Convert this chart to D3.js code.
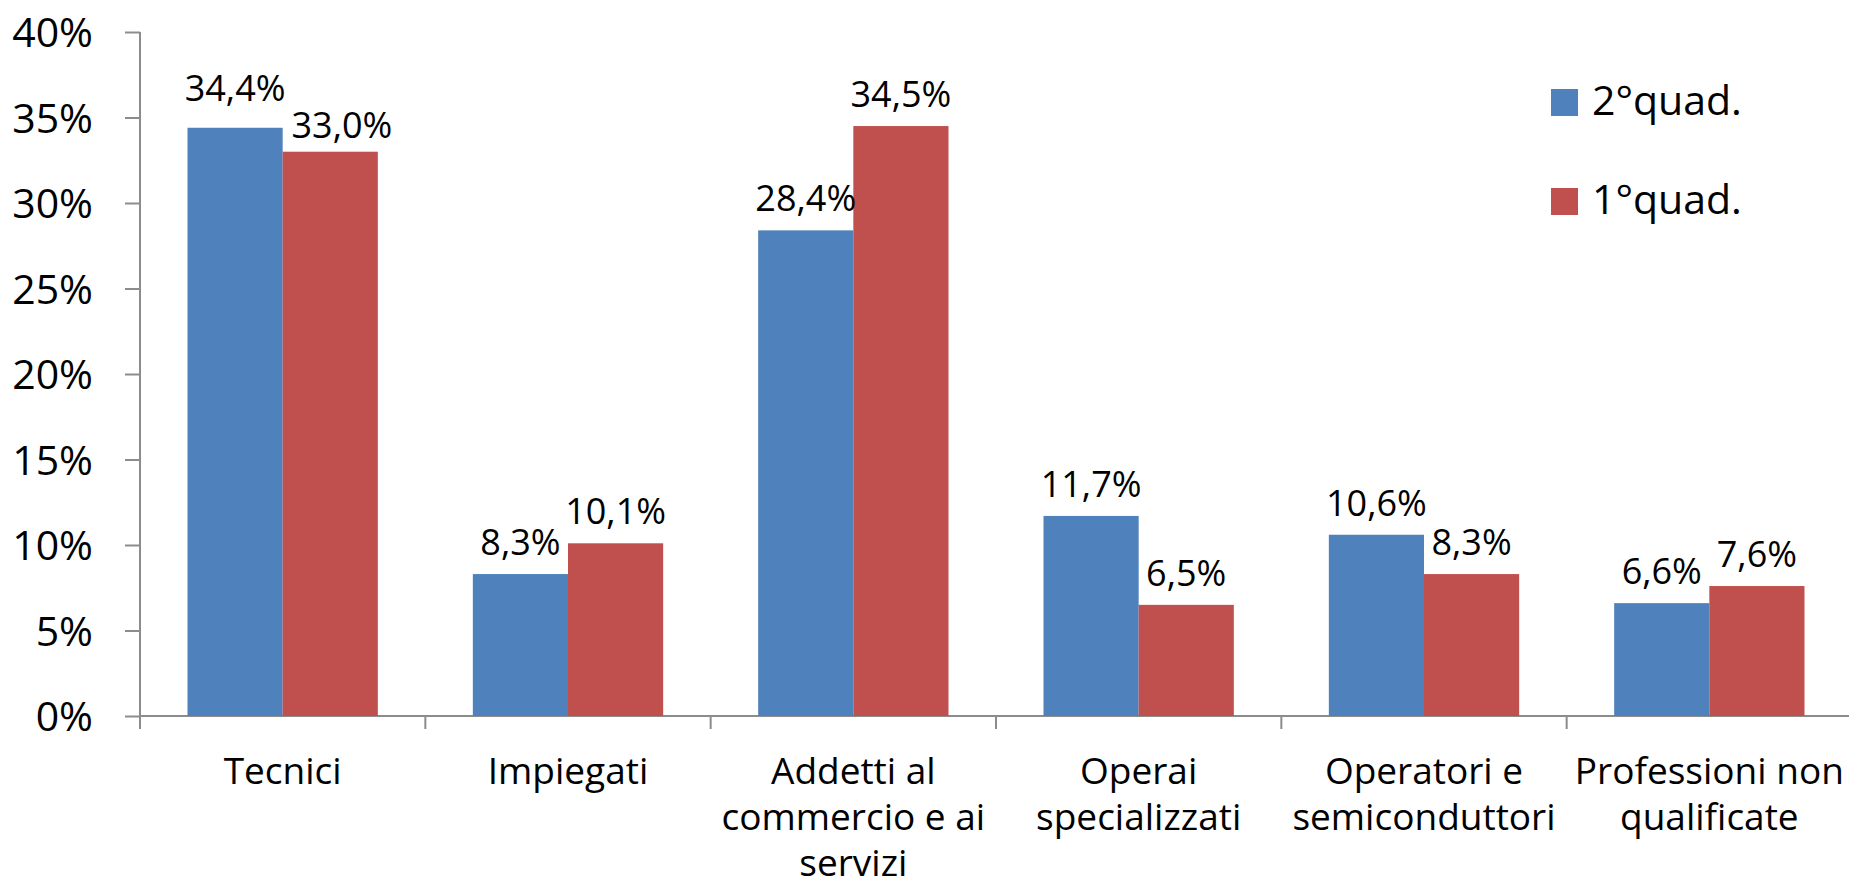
<!DOCTYPE html>
<html>
<head>
<meta charset="utf-8">
<script src="https://cdn.jsdelivr.net/npm/d3@7"></script>
<style>
  html, body { margin: 0; padding: 0; background: #fff; }
  svg { display: block; font-family: "Open Sans", "Noto Sans", sans-serif; }
</style>
</head>
<body>
<div id="chart"></div>
<script>
// categories (each entry = lines of the label)
var categories = [
  ["Tecnici"],
  ["Impiegati"],
  ["Addetti al", "commercio e ai", "servizi"],
  ["Operai", "specializzati"],
  ["Operatori e", "semiconduttori"],
  ["Professioni non", "qualificate"]
];
var seriesNames = ["2°quad.", "1°quad."];
var q2 = [34.4, 8.3, 28.4, 11.7, 10.6, 6.6];
var q1 = [33.0, 10.1, 34.5, 6.5, 8.3, 7.6];
var yTicks = [0, 5, 10, 15, 20, 25, 30, 35, 40];

var colors = ["#4F81BD", "#C0504D"];
var axisColor = "#8c8c8c";

var width = 1849, height = 892;
// plot area (note: "top" is reserved on window, so use other names)
var plotLeft = 140, plotRight = 1852, plotTop = 32, plotBottom = 716;

var svg = d3.select("#chart").append("svg")
  .attr("width", width)
  .attr("height", height);

var x0 = d3.scaleBand()
  .domain(d3.range(categories.length))
  .range([plotLeft, plotRight])
  .paddingInner(0.333)
  .paddingOuter(0.1665);

var x1 = d3.scaleBand()
  .domain([0, 1])
  .range([0, x0.bandwidth()]);

var y = d3.scaleLinear()
  .domain([0, 40])
  .range([plotBottom, plotTop]);

var fmt = function(v) { return v.toFixed(1).replace(".", ",") + "%"; };

// y axis
var yAxis = d3.axisLeft(y)
  .tickValues(yTicks)
  .tickSize(15)
  .tickPadding(32)
  .tickFormat(function(d) { return d + "%"; });

var gy = svg.append("g")
  .attr("transform", "translate(" + plotLeft + ",0)")
  .call(yAxis);
gy.select(".domain").attr("stroke", axisColor).attr("stroke-width", 2)
  .attr("d", "M0," + plotTop + "V" + (plotBottom + 13));
gy.selectAll(".tick line").attr("stroke", axisColor).attr("stroke-width", 2);
gy.selectAll(".tick text")
  .attr("font-size", 41)
  .attr("font-family", "'Open Sans', sans-serif")
  .attr("fill", "#000")
  .attr("dy", "0.36em");

// x axis line and ticks at band boundaries
var step = x0.step();
var gx = svg.append("g");
gx.append("line")
  .attr("x1", plotLeft).attr("x2", plotRight)
  .attr("y1", plotBottom).attr("y2", plotBottom)
  .attr("stroke", axisColor).attr("stroke-width", 2);
gx.selectAll("line.tk")
  .data(d3.range(categories.length + 1))
  .enter().append("line")
  .attr("class", "tk")
  .attr("x1", function(i) { return plotLeft + i * step; })
  .attr("x2", function(i) { return plotLeft + i * step; })
  .attr("y1", plotBottom).attr("y2", plotBottom + 13)
  .attr("stroke", axisColor).attr("stroke-width", 2);

// category labels
var catText = gx.selectAll("text.cat")
  .data(categories)
  .enter().append("text")
  .attr("class", "cat")
  .attr("text-anchor", "middle")
  .attr("font-size", 37)
  .attr("fill", "#000")
  .attr("transform", function(d, i) {
    return "translate(" + (x0(i) + x0.bandwidth() / 2) + "," + 784 + ")";
  });
catText.selectAll("tspan")
  .data(function(d) { return d; })
  .enter().append("tspan")
  .attr("x", 0)
  .attr("y", function(d, j) { return j * 46; })
  .text(function(d) { return d; });

// bars
var rows = categories.map(function(c, i) { return [q2[i], q1[i]]; });
var groups = svg.selectAll("g.grp")
  .data(rows)
  .enter().append("g")
  .attr("class", "grp")
  .attr("transform", function(d, i) { return "translate(" + x0(i) + ",0)"; });

groups.selectAll("rect")
  .data(function(d) { return d; })
  .enter().append("rect")
  .attr("x", function(d, j) { return x1(j); })
  .attr("y", function(d) { return y(d); })
  .attr("width", x1.bandwidth())
  .attr("height", function(d) { return plotBottom - y(d); })
  .attr("fill", function(d, j) { return colors[j]; });

// data labels
groups.each(function(d) {
  var g = d3.select(this);
  var labels = d.map(function(v, j) {
    return g.append("text")
      .attr("text-anchor", "middle")
      .attr("font-size", 36)
      .attr("fill", "#000")
      .attr("x", x1(j) + x1.bandwidth() / 2)
      .attr("y", y(v) - 19)
      .text(fmt(v));
  });
  // simple collision handling like the spreadsheet layout
  var b0 = labels[0].node().getBBox(), b1 = labels[1].node().getBBox();
  var hOver = b0.x + b0.width - b1.x;
  var vOver = Math.min(b0.y + b0.height, b1.y + b1.height) - Math.max(b0.y, b1.y);
  if (hOver > 0 && vOver > 0) {
    labels[1].attr("x", +labels[1].attr("x") + hOver + 6);
    var hi = d[0] >= d[1] ? 0 : 1;
    labels[hi].attr("y", +labels[hi].attr("y") - 8);
    labels[1 - hi].attr("y", +labels[1 - hi].attr("y") + 5);
  }
});

// legend
var legend = svg.append("g");
seriesNames.forEach(function(name, j) {
  legend.append("rect")
    .attr("x", 1551).attr("y", 89 + j * 99)
    .attr("width", 27).attr("height", 27)
    .attr("fill", colors[j]);
  legend.append("text")
    .attr("x", 1592).attr("y", 115 + j * 99)
    .attr("font-size", 41)
    .attr("fill", "#000")
    .text(name);
});
</script>
</body>
</html>
